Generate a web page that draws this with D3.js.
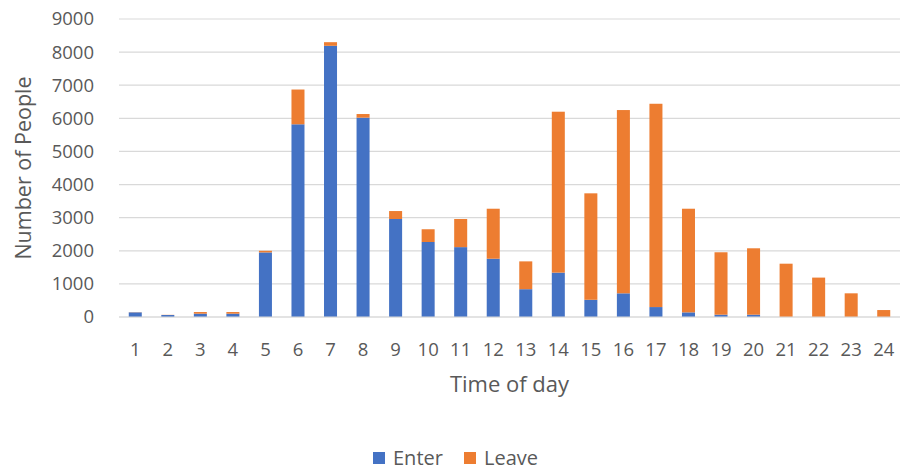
<!DOCTYPE html>
<html>
<head>
<meta charset="utf-8">
<script src="https://cdn.jsdelivr.net/npm/d3@7"></script>
<style>
  html, body { margin: 0; padding: 0; background: #fff; }
  svg { display: block; }
  text { font-family: "Open Sans", "Noto Sans", sans-serif; fill: #595959; }
</style>
</head>
<body>
<svg id="chart" width="908" height="472"></svg>
<script>
// Hour of the day
const hours = ["1","2","3","4","5","6","7","8","9","10","11","12",
               "13","14","15","16","17","18","19","20","21","22","23","24"];
// People entering per hour
const enter = [140, 60, 100, 100, 1950, 5820, 8190, 6020, 2960, 2265, 2110, 1760,
               840, 1340, 520, 715, 300, 140, 70, 70, 0, 0, 0, 0];
// People leaving per hour
const leave = [5, 5, 50, 50, 50, 1050, 110, 110, 240, 385, 850, 1510,
               840, 4860, 3215, 5535, 6140, 3130, 1885, 2005, 1610, 1190, 715, 210];
const yTicks = [0, 1000, 2000, 3000, 4000, 5000, 6000, 7000, 8000, 9000];
const seriesNames = ["Enter", "Leave"];
const colors = ["#4472C4", "#ED7D31"];

const svg = d3.select("#chart");
const m = { left: 119, right: 900, top: 19, bottom: 317 };

const x = d3.scaleBand().domain(hours).range([m.left, m.right]).paddingInner(0.6).paddingOuter(0.3);
const y = d3.scaleLinear().domain([0, 9000]).range([m.bottom, m.top]);

// Horizontal gridlines
svg.append("g").selectAll("line").data(yTicks).join("line")
  .attr("x1", m.left).attr("x2", m.right)
  .attr("y1", d => y(d)).attr("y2", d => y(d))
  .attr("stroke", "#d9d9d9").attr("stroke-width", 1.2);

// Y axis labels
const yAxis = d3.axisLeft(y).tickValues(yTicks).tickSize(0).tickPadding(0).tickFormat(d3.format("d"));
const gy = svg.append("g").attr("transform", `translate(${m.left - 25},0)`).call(yAxis);
gy.select(".domain").remove();
gy.selectAll("text").attr("font-size", 18.5).attr("font-family", null).attr("fill", "#595959");

// Stacked bars
const rows = hours.map((h, i) => ({ hour: h, Enter: enter[i], Leave: leave[i] }));
const stacked = d3.stack().keys(seriesNames)(rows);
svg.append("g").selectAll("g").data(stacked).join("g")
  .attr("fill", (d, i) => colors[i])
  .selectAll("rect").data(d => d).join("rect")
  .attr("x", d => x(d.data.hour))
  .attr("width", x.bandwidth())
  .attr("y", d => y(d[1]))
  .attr("height", d => y(d[0]) - y(d[1]));

// Baseline
svg.append("line")
  .attr("x1", m.left).attr("x2", m.right)
  .attr("y1", y(0)).attr("y2", y(0))
  .attr("stroke", "#d9d9d9").attr("stroke-width", 1.2);

// X axis labels
const xAxis = d3.axisBottom(x).tickSize(0).tickPadding(0);
const gx = svg.append("g").attr("transform", `translate(0,${m.bottom})`).call(xAxis);
gx.select(".domain").remove();
gx.selectAll("text").attr("font-size", 18.5).attr("font-family", null).attr("fill", "#595959")
  .attr("dy", null).attr("y", 39);

// Axis titles
svg.append("text")
  .attr("x", (m.left + m.right) / 2).attr("y", 392)
  .attr("text-anchor", "middle").attr("font-size", 22)
  .text("Time of day");

svg.append("text")
  .attr("transform", `translate(31,${(m.top + m.bottom) / 2}) rotate(-90)`)
  .attr("text-anchor", "middle").attr("font-size", 21.5)
  .text("Number of People");

// Legend
const legend = svg.append("g").attr("transform", "translate(373,451)");
const items = [{ name: seriesNames[0], dx: 0 }, { name: seriesNames[1], dx: 91 }];
items.forEach((it, i) => {
  const g = legend.append("g").attr("transform", `translate(${it.dx},0)`);
  g.append("rect").attr("width", 12).attr("height", 12).attr("y", 1).attr("fill", colors[i]);
  g.append("text").attr("x", 20).attr("y", 14).attr("font-size", 20).text(it.name);
});
</script>
</body>
</html>
